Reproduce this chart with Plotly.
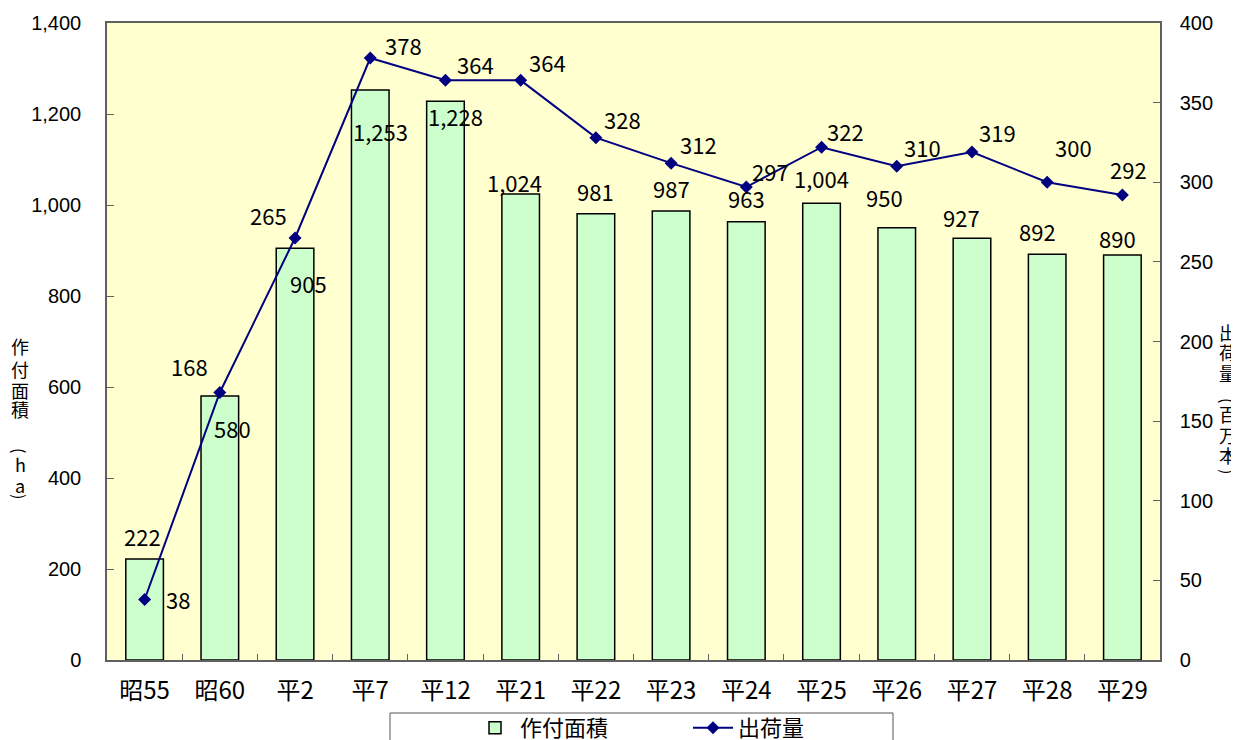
import plotly.graph_objects as go

categories = ["昭55", "昭60", "平2", "平7", "平12", "平21", "平22", "平23", "平24", "平25", "平26", "平27", "平28", "平29"]
area_ha = [222, 580, 905, 1253, 1228, 1024, 981, 987, 963, 1004, 950, 927, 892, 890]
shipments = [38, 168, 265, 378, 364, 364, 328, 312, 297, 322, 310, 319, 300, 292]
left_title = ["作", "付", "面", "積", "(", "h", "a", ")"]
right_title = ["出", "荷", "量", "(", "百", "万", "本", ")"]

# label offsets (pixels) - style only
bar_lbl_dx = [-2, 13, 13, 10, 10, -6, 0, 0, 0, 0, -12, -10, -10, -5]
bar_lbl_dy = [23, -32, -35, -41, -15, 12, 23, 23, 24, 25, 31, 21, 23, 17]
line_lbl_dx = [33, -30, -27, 33, 30, 27, 27, 27, 24, 24, 26, 26, 26, 6]
line_lbl_dy = [0, 26, 23, 13, 16, 18, 19, 19, 16, 16, 19, 20, 35, 26]
left_title_y = [346, 369, 390, 409, 450, 464, 485, 496]    # page px, style
right_title_y = [332, 352, 373, 400, 414, 435, 455, 471]   # page px, style

FONT = "Noto Sans CJK JP"
OFF = 8  # page body margin
W, H = 1239 - OFF, 740 - OFF
L, T = 107 - OFF, 23 - OFF
R = W - (1160 - OFF)
B = H - (660 - OFF)
PW, PH = W - L - R, H - T - B


def px(xp):  # page x -> paper
    return (xp - OFF - L) / PW


def py(yp):  # page y -> paper
    return (H - B - (yp - OFF)) / PH


fig = go.Figure()
fig.add_trace(go.Bar(
    x=categories, y=area_ha, name="作付面積",
    marker=dict(color="#CCFFCC", line=dict(color="#000000", width=1.5)),
    yaxis="y",
))
fig.add_trace(go.Scatter(
    x=categories, y=shipments, name="出荷量", mode="lines+markers",
    line=dict(color="#000080", width=2),
    marker=dict(symbol="diamond", size=10, color="#000080"),
    yaxis="y2",
))

ann = []
for i, (c, v) in enumerate(zip(categories, area_ha)):
    ann.append(dict(x=c, y=v, xref="x", yref="y", text=f"{v:,}", showarrow=False,
                    xshift=bar_lbl_dx[i], yshift=bar_lbl_dy[i],
                    font=dict(family=FONT, size=22, color="#000")))
for i, (c, v) in enumerate(zip(categories, shipments)):
    ann.append(dict(x=c, y=v, xref="x", yref="y2", text=f"{v:,}", showarrow=False,
                    xshift=line_lbl_dx[i], yshift=line_lbl_dy[i],
                    font=dict(family=FONT, size=22, color="#000")))


def title_chars(chars, ys, xpage):
    for ch, yy in zip(chars, ys):
        paren = ch in "()"
        ann.append(dict(xref="paper", yref="paper", x=px(xpage), y=py(yy),
                        xanchor="center", yanchor="middle", text=ch, showarrow=False,
                        textangle=90 if paren else 0,
                        font=dict(family=FONT, size=16 if paren else 18, color="#000")))


title_chars(left_title, left_title_y, 20)
title_chars(right_title, right_title_y, 1228)

axis_line = "#606060"
fig.update_layout(
    width=W, height=H,
    margin=dict(l=L, r=R, t=T, b=B, autoexpand=False),
    paper_bgcolor="#FFFFFF", plot_bgcolor="#FFFFD0",
    bargap=0.5,
    showlegend=True,
    legend=dict(orientation="h", x=px(470), xanchor="left", y=py(728), yanchor="middle",
                borderwidth=0, bgcolor="rgba(0,0,0,0)",
                entrywidth=163, itemwidth=40,
                font=dict(family=FONT, size=22, color="#000")),
    shapes=[dict(type="rect", xref="paper", yref="paper",
                 x0=px(390), x1=px(893), y0=py(713), y1=py(800),
                 line=dict(color="#555555", width=1), fillcolor="rgba(0,0,0,0)", layer="below")],
    xaxis=dict(range=[-0.5, len(categories) - 0.5],
               showline=True, linecolor=axis_line, linewidth=1.5, mirror=True, automargin=False,
               ticks="inside", tickson="boundaries", ticklen=6, tickcolor=axis_line,
               tickfont=dict(family=FONT, size=24, color="#000"), ticklabelstandoff=8,
               showgrid=False),
    yaxis=dict(range=[0, 1400], dtick=200, tickformat=",", showline=True, linecolor=axis_line,
               linewidth=1.5, ticks="inside", ticklen=7, tickcolor=axis_line, showgrid=False,
               zeroline=False, automargin=False,
               tickfont=dict(family="Liberation Sans", size=20, color="#000"),
               ticklabelstandoff=20),
    yaxis2=dict(range=[0, 400], dtick=50, overlaying="y", side="right", showline=True,
                linecolor=axis_line, linewidth=1.5, ticks="inside", ticklen=7, tickcolor=axis_line,
                showgrid=False, zeroline=False, automargin=False,
                tickfont=dict(family="Liberation Sans", size=20, color="#000"), ticklabelstandoff=14),
    annotations=ann,
)

fig.write_html("out.html")
